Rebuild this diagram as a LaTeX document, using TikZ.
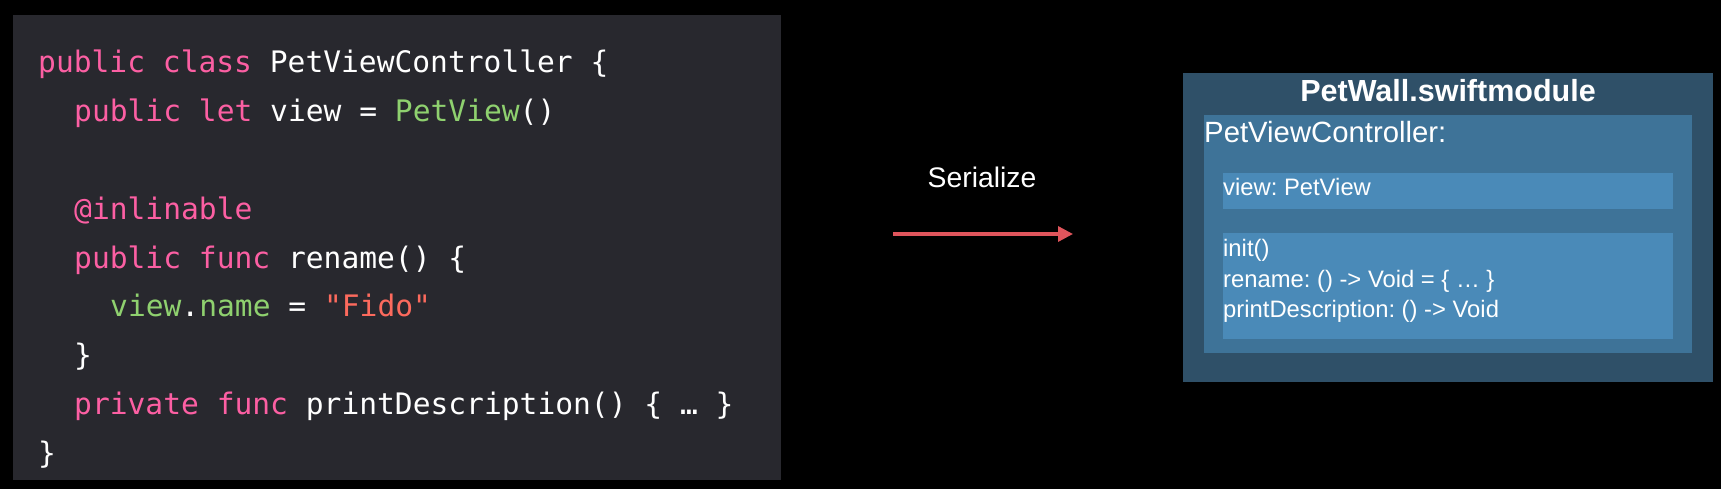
\documentclass[tikz,border=0pt]{standalone}
\usepackage{fontspec}
\usepackage{xcolor}
\usetikzlibrary{arrows.meta,positioning}
\setmainfont{Liberation Sans}
\newfontfamily\codefont{DejaVu Sans Mono}
\definecolor{codebg}{HTML}{28282E}
\definecolor{kwpink}{HTML}{FC5FA3}
\definecolor{idgreen}{HTML}{8FD16F}
\definecolor{strred}{HTML}{FC6A5D}
\definecolor{modouter}{HTML}{2F5068}
\definecolor{modinner}{HTML}{3E7398}
\definecolor{modfield}{HTML}{4A8AB8}
\definecolor{arrowred}{HTML}{E0555C}
\newcommand{\kw}[1]{\textcolor{kwpink}{#1}}
\newcommand{\idg}[1]{\textcolor{idgreen}{#1}}
\newcommand{\str}[1]{\textcolor{strred}{#1}}
\frenchspacing

\begin{document}
\begin{tikzpicture}[x=1pt,y=-1pt,
  code/.style={anchor=base west,inner sep=0pt,text=white,
    font=\codefont\fontsize{29.6}{30}\selectfont},
  box/.style={anchor=north west,inner sep=0pt,outer sep=0pt},
  label/.style={inner sep=0pt,text=white},
  member/.style={label,anchor=base west,font=\fontsize{23.8}{24}\selectfont}]
  \useasboundingbox[fill=black] (0,0) rectangle (1721,489);
  % source code
  \node[box,fill=codebg,minimum width=768,minimum height=465] (src) at (13,15) {};
  \node[code] (l1) at (38,73) {\kw{public class} PetViewController \{};
  \node[code] (l2) at (74,122) {\kw{public let} view = \idg{PetView}()};
  \node[code] (l3) at (74,219) {\kw{@inlinable}};
  \node[code] (l4) at (74,268) {\kw{public func} rename() \{};
  \node[code] (l5) at (110,316) {\idg{view}.\idg{name} = \str{"Fido"}};
  \node[code] (l6) at (74,365) {\}};
  \node[code] (l7) at (74,414) {\kw{private func} printDescription() \{ … \}};
  \node[code] (l8) at (38,463) {\}};
  % serialize arrow
  \coordinate (from) at (893,234);
  \coordinate (to) at (1073,234);
  \draw[arrowred,line width=3.3pt,-{Triangle[length=15pt,width=15pt]}] (from) -- (to);
  \node[label,anchor=base,font=\fontsize{28.3}{29}\selectfont] (ser) at (982,188) {Serialize};
  % module
  \node[box,fill=modouter,minimum width=530,minimum height=309] (mod) at (1183,73) {};
  \node[box,fill=modinner,minimum width=488,minimum height=238] (pvc) at (1204,115) {};
  \node[box,fill=modfield,minimum width=450,minimum height=36] (props) at (1223,173) {};
  \node[box,fill=modfield,minimum width=450,minimum height=106] (funcs) at (1223,233) {};
  \node[label,anchor=base,font=\bfseries\fontsize{30.5}{31}\selectfont] (title) at (1448,102) {PetWall.swiftmodule};
  \node[label,anchor=base west,font=\fontsize{29.3}{30}\selectfont] (cls) at (1204,143) {PetViewController:};
  \node[member] (m1) at (1223,196) {view: PetView};
  \node[member] (m2) at (1223,256) {init()};
  \node[member] (m3) at (1223,287) {rename: () -> Void = \{ … \}};
  \node[member] (m4) at (1223,317) {printDescription: () -> Void};
\end{tikzpicture}
\end{document}
